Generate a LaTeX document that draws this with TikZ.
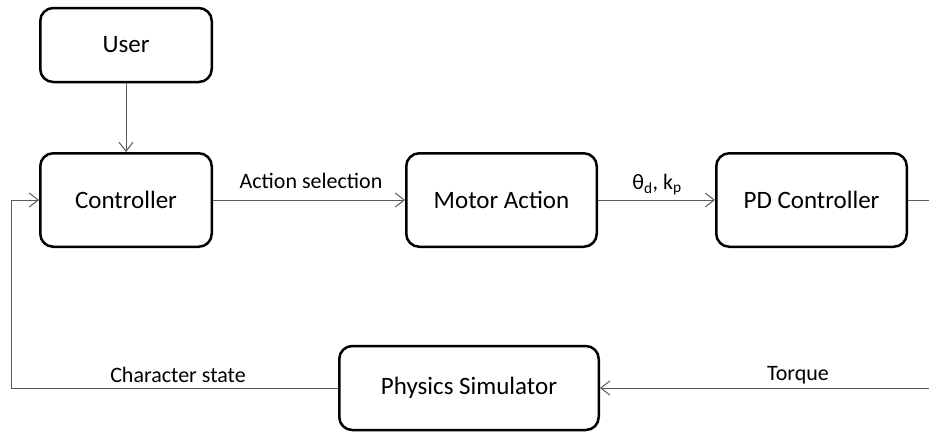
\documentclass[tikz,border=0pt]{standalone}
\usepackage{fontspec}
\setmainfont{Carlito}
\usetikzlibrary{arrows.meta}
\definecolor{lineg}{RGB}{90,90,90}
\begin{document}
\begin{tikzpicture}[x=1pt,y=-1pt,
 box/.style={draw=black,line width=2.5pt,rounded corners=13pt,inner sep=0pt,font=\fontsize{25}{30}\selectfont},
 conn/.style={draw=lineg,line width=1pt,-{Straight Barb[length=9pt,width=14pt,line width=1pt]}},
 plain/.style={draw=lineg,line width=1pt},
 lbl/.style={font=\fontsize{22}{26}\selectfont,inner sep=0pt}]
\useasboundingbox (0,0) rectangle (929,432);
\clip (0,0) rectangle (929,432);
\node[box,minimum width=171.5pt,minimum height=74pt] (user) at (126,45) {User};
\node[box,minimum width=171.5pt,minimum height=93.5pt] (ctrl) at (126,200) {Controller};
\node[box,minimum width=190.5pt,minimum height=93.5pt] (motor) at (501.5,200) {Motor Action};
\node[box,minimum width=190.5pt,minimum height=93.5pt] (pd) at (811.5,200) {PD Controller};
\node[box,minimum width=259.5pt,minimum height=84pt] (phys) at (469,388) {Physics Simulator};
\coordinate (rtop) at (935,200);
\coordinate (rbot) at (935,388);
\coordinate (lbot) at (11,388);
\draw[conn] (user) -- (ctrl);
\draw[conn] (ctrl) -- (motor);
\draw[conn] (motor) -- (pd);
\draw[plain] (pd) -- (rtop);
\draw[conn] (rbot) -- (phys);
\draw[conn] (phys.west) -- (lbot) |- (ctrl.west);
\node[lbl] (l1) at (311,181) {Action selection};
\node[lbl] (l2) at (657,185) {θ\textsubscript{d}, k\textsubscript{p}};
\node[lbl] (l3) at (178,375) {Character state};
\node[lbl] (l4) at (798,375) {Torque};
\end{tikzpicture}
\end{document}
